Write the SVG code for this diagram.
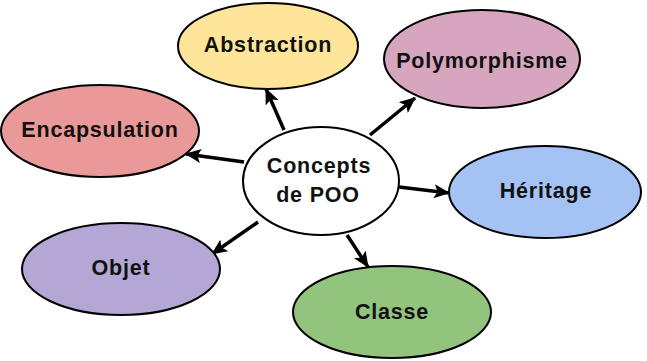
<svg xmlns="http://www.w3.org/2000/svg" width="647" height="361" viewBox="0 0 647 361">
<defs>
<style>
.n ellipse{stroke:#000;stroke-width:2}
.t{font-family:"Liberation Sans",Arial,sans-serif;font-weight:bold;font-size:21.5px;letter-spacing:0.8px;fill:#111;text-anchor:middle}
.c line{stroke:#000;stroke-width:3.5;marker-end:url(#ah)}
</style>
<marker id="ah" viewBox="0 0 16 14" refX="15" refY="7" markerWidth="16" markerHeight="14" markerUnits="userSpaceOnUse" orient="auto">
<path d="M0,0 L16,7 L0,14 L3.5,7 Z" fill="#000"/>
</marker>
</defs>
<rect width="647" height="361" fill="#fff"/>
<g class="c" id="connectors">
<line x1="284" y1="130" x2="266" y2="89"/>
<line x1="370" y1="135" x2="415" y2="98"/>
<line x1="244" y1="162" x2="186" y2="154"/>
<line x1="399" y1="187" x2="449" y2="193"/>
<line x1="258" y1="222" x2="212" y2="254"/>
<line x1="347" y1="235" x2="368" y2="267"/>
</g>
<g class="n" id="abstraction"><ellipse cx="268" cy="46" rx="90" ry="43" fill="#FFE599"/><text class="t" x="268" y="52">Abstraction</text></g>
<g class="n" id="polymorphisme"><ellipse cx="482" cy="59" rx="98" ry="49" fill="#D5A6BD"/><text class="t" x="482" y="68">Polymorphisme</text></g>
<g class="n" id="encapsulation"><ellipse cx="100" cy="131" rx="99" ry="46" fill="#EA9999"/><text class="t" x="100" y="137">Encapsulation</text></g>
<g class="n" id="concepts"><ellipse cx="321" cy="181" rx="78" ry="54" fill="#fff"/><text class="t" x="319" y="173">Concepts</text><text class="t" x="318" y="202">de POO</text></g>
<g class="n" id="heritage"><ellipse cx="545" cy="192" rx="96" ry="46" fill="#A4C2F4"/><text class="t" x="546" y="198">Héritage</text></g>
<g class="n" id="objet"><ellipse cx="121" cy="269" rx="99" ry="46" fill="#B4A7D6"/><text class="t" x="121" y="275">Objet</text></g>
<g class="n" id="classe"><ellipse cx="392" cy="312" rx="99" ry="46" fill="#93C47D"/><text class="t" x="392" y="319">Classe</text></g>
</svg>
